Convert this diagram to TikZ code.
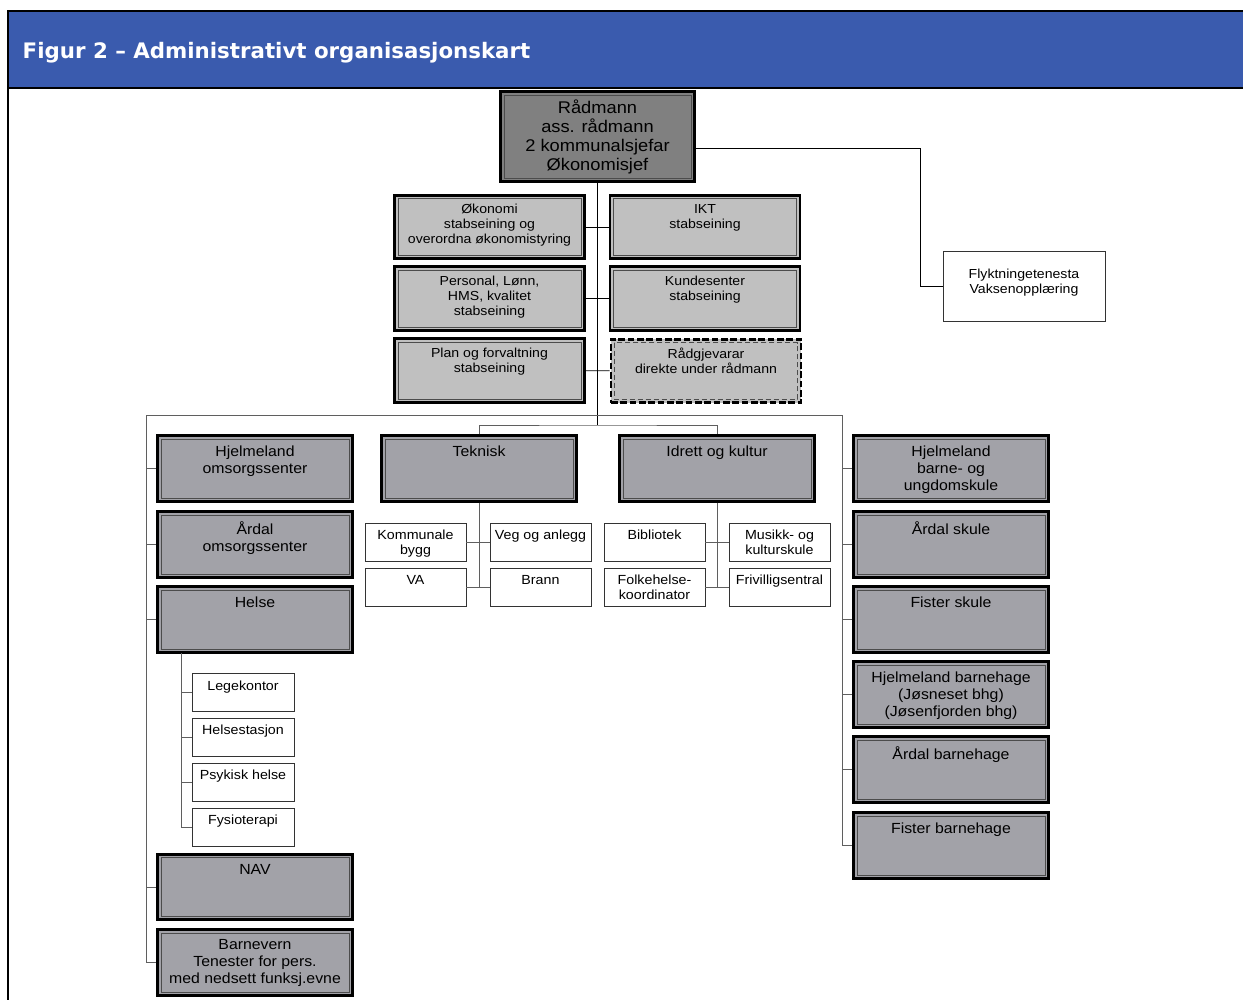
\documentclass[tikz,border=0pt]{standalone}
\usepackage{fontspec}
\setmainfont{Liberation Sans}[FakeStretch=1.08]
\newfontfamily\titlefont{DejaVu Sans}
\usetikzlibrary{positioning}

\definecolor{hodeblaa}{RGB}{58,91,174}
\definecolor{leiargraa}{RGB}{128,128,128}
\definecolor{stabgraa}{RGB}{192,192,192}
\definecolor{avdgraa}{RGB}{162,162,168}
\definecolor{linegraa}{RGB}{95,95,95}

\tikzset{
  indre/.style={},
  ramme/.style={draw=black, line width=2.2pt, inner sep=0pt,
    path picture={\draw[black!70, line width=0.5pt, indre]
      ([shift={(2.5pt,-2.5pt)}]path picture bounding box.north west) rectangle
      ([shift={(-2.5pt,2.5pt)}]path picture bounding box.south east);}},
  leiar/.style={ramme, fill=leiargraa, minimum width=145pt, minimum height=67pt,
    align=center, font=\fontsize{12.7}{14.25}\selectfont},
  stab/.style={ramme, fill=stabgraa, minimum width=142.5pt, minimum height=47.5pt,
    label={[anchor=north, align=center, inner sep=0pt, yshift=-7.5pt,
      font=\fontsize{9.8}{11.25}\selectfont]north:#1}},
  avd/.style={ramme, fill=avdgraa, minimum width=146pt, minimum height=49pt,
    label={[anchor=north, align=center, inner sep=0pt, yshift=-8.2pt,
      font=\fontsize{11}{12.75}\selectfont]north:#1}},
  eining/.style={draw=black!80, line width=0.5pt, fill=white, inner sep=0pt,
    minimum width=75.75pt, minimum height=28.5pt,
    label={[anchor=north, align=center, inner sep=0pt, yshift=-5.5pt,
      font=\fontsize{9.9}{11.25}\selectfont]north:#1}},
  kant/.style={draw=linegraa, line width=0.6pt},
}

\begin{document}
\begin{tikzpicture}[x=0.75pt,y=-0.75pt]
\useasboundingbox (0,0) rectangle (1243,1000);

\fill[hodeblaa] (8,11) rectangle (1243,88);
\draw[line width=1.5pt] (1243,11) -- (8,11) -- (8,1000);
\draw[line width=1.5pt] (8,88) -- (1243,88);
\node[anchor=west, text=white, font=\titlefont\bfseries\fontsize{16}{18}\selectfont]
  (tittel) at (18,53) {Figur 2 – Administrativt organisasjonskart};

\node[leiar] (hoved) at (597.5,136.5) {Rådmann\\ass. rådmann\\2 kommunalsjefar\\Økonomisjef};

\node[stab={Økonomi\\stabseining og\\overordna økonomistyring}] (okonomi) at (489.5,227) {};
\node[stab={IKT\\stabseining}] (ikt) at (705,227) {};
\node[stab={Personal, Lønn,\\HMS, kvalitet\\stabseining}] (personal) at (489.5,298.5) {};
\node[stab={Kundesenter\\stabseining}] (kunde) at (705,298.5) {};
\node[stab={Plan og forvaltning\\stabseining}] (plan) at (489.5,370.5) {};
\node[stab={Rådgjevarar\\direkte under rådmann}, dash pattern=on 5pt off 2pt,
  indre/.style={dash pattern=on 4pt off 2pt}] (radgj) at (706,371) {};

\node[draw=black!80, line width=0.5pt, minimum width=121.5pt, minimum height=52.5pt,
  align=center, font=\fontsize{9.8}{11.25}\selectfont, text depth=7pt]
  (flykt) at (1024,286) {Flyktningetenesta\\Vaksenopplæring};

\node[avd={Hjelmeland\\omsorgssenter}] (homs) at (255,468.5) {};
\node[avd={Årdal\\omsorgssenter}] (aoms) at (255,544.5) {};
\node[avd={Helse}] (helse) at (255,619.5) {};
\node[avd={NAV}] (nav) at (255,887) {};
\node[avd={Barnevern\\Tenester for pers.\\med nedsett funksj.evne}] (barnevern) at (255,962.5) {};

\node[avd={Teknisk}] (teknisk) at (479,468.5) {};
\node[avd={Idrett og kultur}] (idrett) at (717,468.5) {};

\node[avd={Hjelmeland\\barne- og\\ungdomskule}] (hbu) at (951,468.5) {};
\node[avd={Årdal skule}] (ardskule) at (951,544.5) {};
\node[avd={Fister skule}] (fisskule) at (951,619.5) {};
\node[avd={Hjelmeland barnehage\\(Jøsneset bhg)\\(Jøsenfjorden bhg)}] (hbhage) at (951,694.5) {};
\node[avd={Årdal barnehage}] (ardbhage) at (951,769.5) {};
\node[avd={Fister barnehage}] (fisbhage) at (951,845.5) {};

\node[eining={Kommunale\\bygg}] (kbygg) at (415.5,542) {};
\node[eining={Veg og anlegg}] (veg) at (540.5,542) {};
\node[eining={VA}] (va) at (415.5,587) {};
\node[eining={Brann}] (brann) at (540.5,587) {};

\node[eining={Bibliotek}] (bibl) at (654.5,542) {};
\node[eining={Musikk- og\\kulturskule}] (musikk) at (779.5,542) {};
\node[eining={Folkehelse-\\koordinator}] (folkeh) at (654.5,587) {};
\node[eining={Frivilligsentral}] (friv) at (779.5,587) {};

\node[eining={Legekontor}, minimum width=76.5pt] (lege) at (243,692.5) {};
\node[eining={Helsestasjon}, minimum width=76.5pt] (hstasjon) at (243,737) {};
\node[eining={Psykisk helse}, minimum width=76.5pt] (psyk) at (243,782) {};
\node[eining={Fysioterapi}, minimum width=76.5pt] (fysio) at (243,827) {};

\coordinate (midt) at (597.5,425);
\coordinate (vbuss) at (146,415);
\coordinate (hbuss) at (842,415);
\coordinate (flyktknekk) at (920,148);
\coordinate (hstamme) at (181,653);
\coordinate (tstamme) at (teknisk.south |- va.east);
\coordinate (istamme) at (idrett.south |- folkeh.east);

\draw[line width=0.6pt] (hoved.south) -- (midt);
\draw[line width=0.6pt] (okonomi) -- (ikt);
\draw[line width=0.6pt] (personal) -- (kunde);
\draw[line width=0.6pt] (plan) -- (radgj);
\draw[line width=0.6pt] (hoved.east |- flyktknekk) -- (flyktknekk) |- (flykt.west);

\draw[kant] (vbuss) -- (hbuss);
\draw[kant] (teknisk.north) |- (midt) -| (idrett.north);
\draw[kant] (vbuss) |- (barnevern.west);
\foreach \n in {homs,aoms,helse,nav}
  \draw[kant] (vbuss |- \n.west) -- (\n.west);
\draw[kant] (hbuss) |- (fisbhage.west);
\foreach \n in {hbu,ardskule,fisskule,hbhage,ardbhage}
  \draw[kant] (hbuss |- \n.west) -- (\n.west);

\draw[kant] (teknisk.south) -- (tstamme);
\draw[kant] (kbygg) -- (veg);
\draw[kant] (va) -- (brann);
\draw[kant] (idrett.south) -- (istamme);
\draw[kant] (bibl) -- (musikk);
\draw[kant] (folkeh) -- (friv);

\draw[kant] (hstamme) |- (fysio.west);
\foreach \n in {lege,hstasjon,psyk}
  \draw[kant] (hstamme |- \n.west) -- (\n.west);
\end{tikzpicture}
\end{document}
